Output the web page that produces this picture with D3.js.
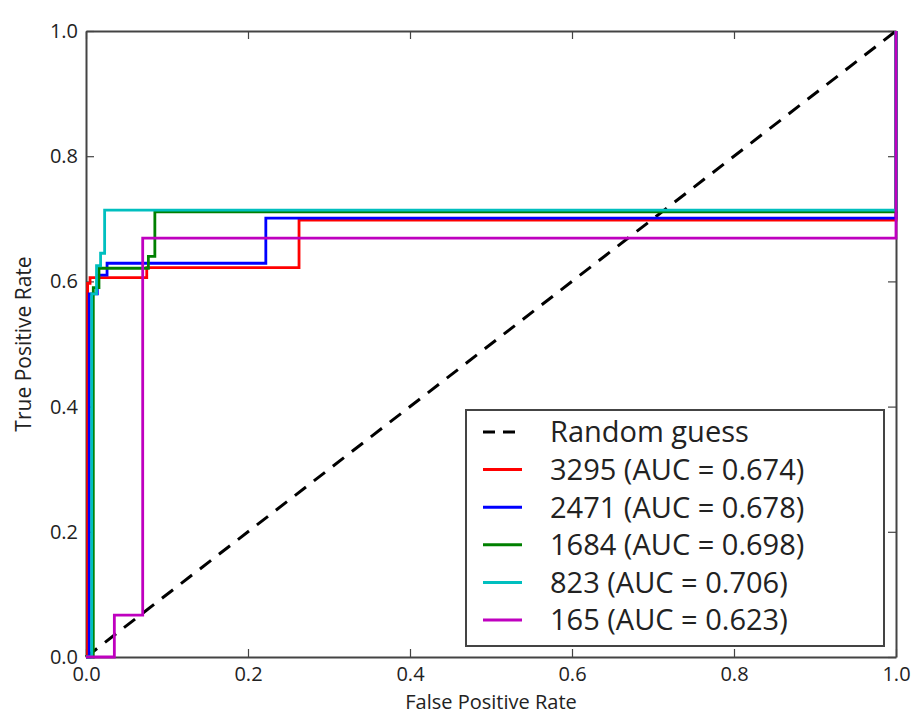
<!DOCTYPE html>
<html>
<head>
<meta charset="utf-8">
<script src="https://cdn.jsdelivr.net/npm/d3@7"></script>
<style>
  body { margin: 0; background: #fff; }
  text { font-family: "Open Sans", sans-serif; fill: #222; }
</style>
</head>
<body>
<svg id="chart" width="913" height="718"></svg>
<script>
// ROC curve points
var red3295Fpr = [0, 0.002, 0.002, 0.005, 0.005, 0.075, 0.075, 0.263, 0.263, 1.0, 1.0];
var red3295Tpr = [0, 0, 0.597, 0.597, 0.606, 0.606, 0.622, 0.622, 0.698, 0.698, 1.0];

var blue2471Fpr = [0, 0.004, 0.004, 0.014, 0.014, 0.026, 0.026, 0.222, 0.222, 1.0, 1.0];
var blue2471Tpr = [0, 0, 0.58, 0.58, 0.61, 0.61, 0.629, 0.629, 0.701, 0.701, 1.0];

var green1684Fpr = [0, 0.009, 0.009, 0.016, 0.016, 0.077, 0.077, 0.085, 0.085, 1.0, 1.0];
var green1684Tpr = [0, 0, 0.59, 0.59, 0.621, 0.621, 0.64, 0.64, 0.711, 0.711, 1.0];

var cyan823Fpr = [0, 0.007, 0.007, 0.013, 0.013, 0.018, 0.018, 0.023, 0.023, 1.0, 1.0];
var cyan823Tpr = [0, 0, 0.58, 0.58, 0.625, 0.625, 0.645, 0.645, 0.714, 0.714, 1.0];

var mag165Fpr = [0, 0.035, 0.035, 0.070, 0.070, 1.0, 1.0];
var mag165Tpr = [0, 0, 0.067, 0.067, 0.669, 0.669, 1.0];

var seriesNames = ["3295 (AUC = 0.674)", "2471 (AUC = 0.678)", "1684 (AUC = 0.698)", "823 (AUC = 0.706)", "165 (AUC = 0.623)"];
var seriesColors = ["#ff0000", "#0000ff", "#008000", "#00bfbf", "#bf00bf"];
var tickValues = [0, 0.2, 0.4, 0.6, 0.8, 1.0];

var series = [
  [red3295Fpr, red3295Tpr],
  [blue2471Fpr, blue2471Tpr],
  [green1684Fpr, green1684Tpr],
  [cyan823Fpr, cyan823Tpr],
  [mag165Fpr, mag165Tpr]
].map(function(s, i) {
  return {
    name: seriesNames[i],
    color: seriesColors[i],
    points: s[0].map(function(x, j) { return [x, s[1][j]]; })
  };
});

var svg = d3.select("#chart"),
  box = {left: 86, top: 31, right: 896, bottom: 657};

var xScale = d3.scaleLinear().domain([0, 1]).range([box.left, box.right]),
  yScale = d3.scaleLinear().domain([0, 1]).range([box.bottom, box.top]);

var fmt = d3.format(".1f");

// axes, ticks inward on all four sides
svg.append("g")
  .attr("class", "axis")
  .attr("transform", "translate(0," + box.bottom + ")")
  .call(d3.axisBottom(xScale).tickValues(tickValues).tickFormat(fmt).tickSizeInner(-8).tickSizeOuter(0).tickPadding(10));
svg.append("g")
  .attr("class", "axis")
  .attr("transform", "translate(" + box.left + ",0)")
  .call(d3.axisLeft(yScale).tickValues(tickValues).tickFormat(fmt).tickSizeInner(-8).tickSizeOuter(0).tickPadding(8));
svg.append("g")
  .attr("class", "axis")
  .attr("transform", "translate(0," + box.top + ")")
  .call(d3.axisTop(xScale).tickValues(tickValues).tickFormat("").tickSizeInner(-8).tickSizeOuter(0));
svg.append("g")
  .attr("class", "axis")
  .attr("transform", "translate(" + box.right + ",0)")
  .call(d3.axisRight(yScale).tickValues(tickValues).tickFormat("").tickSizeInner(-8).tickSizeOuter(0));

svg.selectAll(".axis path").attr("stroke", "#444").attr("stroke-width", 2);
svg.selectAll(".axis line").attr("stroke", "#444").attr("stroke-width", 1.2);
svg.selectAll(".axis text").attr("font-family", null).attr("font-size", null)
  .style("font-size", "20px").attr("fill", "#222");

// axis titles
svg.append("text")
  .attr("x", (box.left + box.right) / 2)
  .attr("y", 709)
  .attr("text-anchor", "middle")
  .style("font-size", "20px")
  .text("False Positive Rate");
svg.append("text")
  .attr("transform", "translate(31," + ((box.top + box.bottom) / 2) + ") rotate(-90)")
  .attr("text-anchor", "middle")
  .style("font-size", "21px")
  .text("True Positive Rate");

var line = d3.line()
  .x(function(d) { return xScale(d[0]); })
  .y(function(d) { return yScale(d[1]); });

// random guess diagonal
svg.append("path")
  .datum([[0, 0], [1, 1]])
  .attr("d", line)
  .attr("fill", "none")
  .attr("stroke", "#000")
  .attr("stroke-width", 3)
  .attr("stroke-dasharray", "14,10");

svg.selectAll(".roc")
  .data(series)
  .enter().append("path")
  .attr("class", "roc")
  .attr("d", function(d) { return line(d.points); })
  .attr("fill", "none")
  .attr("stroke", function(d) { return d.color; })
  .attr("stroke-width", 2.8);

// legend
var lg = svg.append("g").attr("transform", "translate(466,410)");
lg.append("rect")
  .attr("width", 418).attr("height", 236)
  .attr("fill", "#fff").attr("stroke", "#444").attr("stroke-width", 2);

var rowY = function(i) { return 22 + i * 37.6; };

lg.append("line")
  .attr("x1", 17).attr("x2", 56)
  .attr("y1", rowY(0)).attr("y2", rowY(0))
  .attr("stroke", "#000").attr("stroke-width", 3).attr("stroke-dasharray", "12,8");
lg.append("text")
  .attr("x", 84).attr("y", rowY(0)).attr("dy", "0.36em")
  .style("font-size", "29px")
  .text("Random guess");

var rows = lg.selectAll(".row")
  .data(series)
  .enter().append("g")
  .attr("class", "row")
  .attr("transform", function(d, i) { return "translate(0," + rowY(i + 1) + ")"; });
rows.append("line")
  .attr("x1", 17).attr("x2", 56)
  .attr("stroke", function(d) { return d.color; })
  .attr("stroke-width", 3);
rows.append("text")
  .attr("x", 84).attr("dy", "0.36em")
  .style("font-size", "29px")
  .text(function(d) { return d.name; });
</script>
</body>
</html>
